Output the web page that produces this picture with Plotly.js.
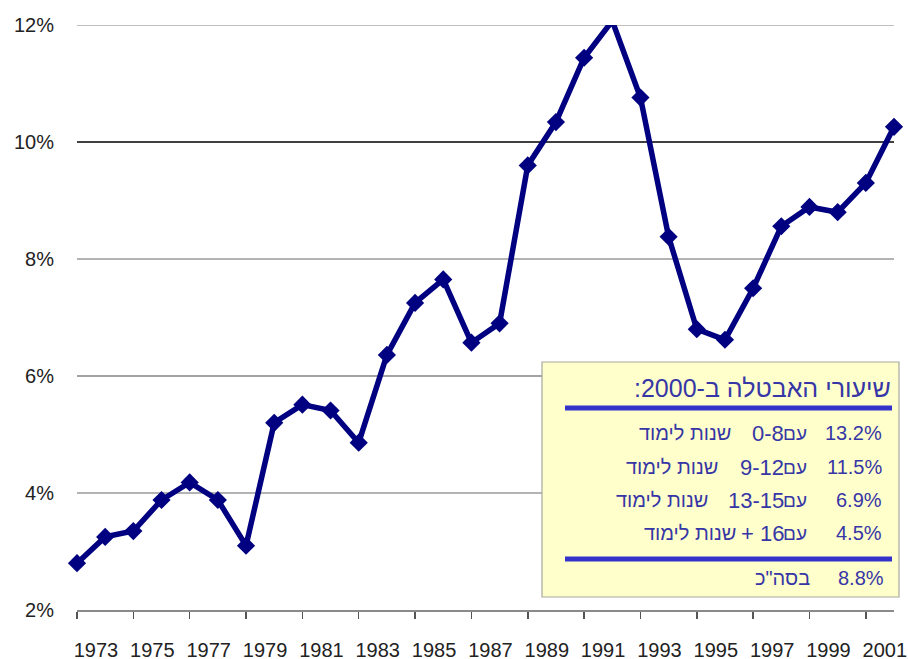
<!DOCTYPE html>
<html>
<head>
<meta charset="utf-8">
<script src="https://cdn.plot.ly/plotly-3.0.1.min.js"></script>
<style>html,body{margin:0;padding:0;background:#fff;}#chart{width:908px;height:659px;}</style>
</head>
<body>
<div id="chart"></div>
<script>
// ---- data ----
const years = [1973,1974,1975,1976,1977,1978,1979,1980,1981,1982,1983,1984,1985,1986,1987,
               1988,1989,1990,1991,1992,1993,1994,1995,1996,1997,1998,1999,2000,2001,2002];
const rates = [2.8,3.25,3.35,3.88,4.18,3.88,3.1,5.2,5.51,5.41,4.86,6.36,7.25,7.65,6.57,
               6.9,9.6,10.34,11.44,12.07,10.76,8.38,6.8,6.62,7.5,8.56,8.89,8.8,9.3,10.26];
const tickYears = [1973,1975,1977,1979,1981,1983,1985,1987,1989,1991,1993,1995,1997,1999,2001];
const tickLabels = tickYears.map(String);
const yTicks = [2,4,6,8,10,12];
const yTickLabels = ["2%","4%","6%","8%","10%","12%"];

const boxTitle = "שיעורי האבטלה ב-2000:";
const groupPct = ["13.2%","11.5%","6.9%","4.5%"];
const groupYears = ["0-8","9-12","13-15","+ 16"];
const withWord = "עם";
const studyWords = "שנות לימוד";
const totalLabel = "בסה\"כ";
const totalPct = "8.8%";

// ---- layout helpers (pixel -> paper) ----
const L = 77, R = 894, T = 25, B = 610;
const px = x => (x - L) / (R - L);
const py = y => (B - y) / (B - T);

const txtColor = '#3636A6';
const font = 'Liberation Sans, Arial, sans-serif';

const annotations = [];
function ann(text, x, y, size, anchor) {
  annotations.push({text: text, xref: 'paper', yref: 'paper', x: px(x), y: py(y),
    xanchor: anchor || 'right', yanchor: 'middle', showarrow: false,
    font: {family: font, size: size, color: txtColor}});
}
ann('\u202B' + boxTitle + '\u202C', 893, 388, 25);
const rowY = [433, 467, 500, 533];
const hebRight = [733, 720, 710, 738];
for (let i = 0; i < groupPct.length; i++) {
  ann(groupPct[i], 884, rowY[i], 20);
  ann(withWord, 809, rowY[i], 19);
  ann(groupYears[i], 786, rowY[i], 22);
  ann(studyWords, hebRight[i], rowY[i], 20);
}
ann(totalPct, 886, 578, 20);
ann(totalLabel, 812, 578, 20);

// gridlines (style per level), drawn beneath the trace
const gridColor = {4: '#9a9a9a', 6: '#858585', 8: '#9a9a9a', 10: '#000000', 12: '#ababab'};
const shapes = [];
yTicks.filter(v => gridColor[v]).forEach(v => {
  shapes.push({type: 'line', xref: 'paper', yref: 'y', x0: 0, x1: 1, y0: v, y1: v,
    line: {color: gridColor[v], width: 1.5}, layer: 'below'});
});
shapes.push(
  {type: 'rect', xref: 'paper', yref: 'paper', x0: px(542), x1: px(899), y0: py(362), y1: py(597),
   fillcolor: '#FFFFCC', line: {color: '#A8A8A0', width: 1.2}, layer: 'above'},
  {type: 'line', xref: 'paper', yref: 'paper', x0: px(565), x1: px(892), y0: py(408), y1: py(408),
   line: {color: '#3333CC', width: 5}},
  {type: 'line', xref: 'paper', yref: 'paper', x0: px(565), x1: px(892), y0: py(559), y1: py(559),
   line: {color: '#3333CC', width: 5}}
);

const trace = {
  x: years, y: rates, type: 'scatter', mode: 'lines+markers',
  line: {color: '#000080', width: 5.5},
  marker: {symbol: 'diamond', size: 14, color: '#000080'},
  cliponaxis: false, hoverinfo: 'x+y'
};

const layout = {
  width: 908, height: 659,
  margin: {l: L, r: 908 - R, t: T, b: 659 - B},
  paper_bgcolor: '#fff', plot_bgcolor: '#fff',
  showlegend: false,
  font: {family: font, size: 20, color: '#222'},
  xaxis: {
    type: 'linear', range: [1973, 2002], tickvals: tickYears, ticktext: tickLabels,
    showgrid: false, zeroline: false, showline: true, linecolor: '#8a8a8a', linewidth: 1.5,
    ticks: 'outside', ticklen: 7, tickwidth: 1.5, tickcolor: '#555',
    ticklabelshift: 19, ticklabelstandoff: 14,
    tickfont: {family: font, size: 20, color: '#222'}
  },
  yaxis: {
    range: [2, 12], tickvals: yTicks, ticktext: yTickLabels,
    showgrid: false, zeroline: false, showline: false, ticks: '',
    ticklabelstandoff: 22,
    tickfont: {family: font, size: 20, color: '#222'}
  },
  shapes: shapes,
  annotations: annotations
};

Plotly.newPlot('chart', [trace], layout, {displayModeBar: false, staticPlot: true});
</script>
</body>
</html>
